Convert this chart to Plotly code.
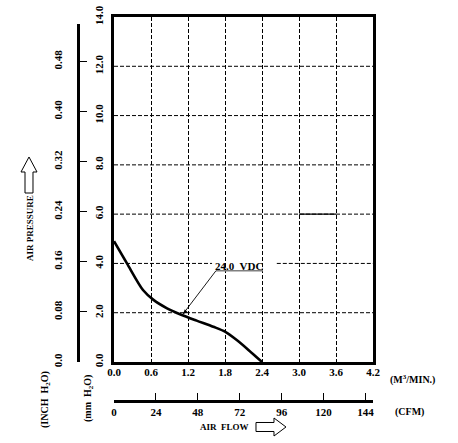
import plotly.graph_objects as go

# ---- data ----
flow_m3 = [0.0, 0.21, 0.47, 0.64, 0.86, 1.10, 1.34, 1.61, 1.80, 1.99, 2.18, 2.40]
pressure_mm = [4.9, 4.0, 2.92, 2.52, 2.18, 1.91, 1.68, 1.43, 1.23, 0.89, 0.49, 0.0]

x_ticks_m3 = [0.0, 0.6, 1.2, 1.8, 2.4, 3.0, 3.6, 4.2]
x_labels_m3 = ["0.0", "0.6", "1.2", "1.8", "2.4", "3.0", "3.6", "4.2"]
y_ticks_mm = [0, 2, 4, 6, 8, 10, 12, 14]
y_labels_mm = ["0.0", "2.0", "4.0", "6.0", "8.0", "10.0", "12.0", "14.0"]
inch_ticks = [0.0, 0.08, 0.16, 0.24, 0.32, 0.40, 0.48]
inch_labels = ["0.0", "0.08", "0.16", "0.24", "0.32", "0.40", "0.48"]
cfm_ticks = [0, 24, 48, 72, 96, 120, 144]
cfm_labels = ["0", "24", "48", "72", "96", "120", "144"]
curve_label = "24.0  VDC"
label_pos = (2.02, 3.9)
pointer_tip = (1.12, 1.95)
pointer_tail = (1.654, 3.705)
underline_end = 2.416
label_gap = (1.59, 2.64)   # gap in the 4.0 gridline behind the label
solid_seg = (3.0, 3.6, 6)  # solid segment on the 6.0 gridline

X_MAX, Y_MAX = 4.2, 14
M3_TO_CFM = 35.3147

W, H = 458, 443
def px(x):
    return x / W
def py(y):
    return 1 - y / H

FONT = "Liberation Serif"
def bold(lst):
    return [f"<b>{s}</b>" for s in lst]
tf = dict(family=FONT, size=11, color="black")
af = dict(family=FONT, size=10, color="black")
sf = dict(family=FONT, size=9, color="black")

fig = go.Figure()
fig.add_trace(go.Scatter(x=flow_m3, y=pressure_mm, mode="lines",
                         line=dict(color="black", width=2.6, shape="spline", smoothing=0.8),
                         hoverinfo="skip", showlegend=False))
# dummy trace so that secondary (unit-conversion) axes get drawn
fig.add_trace(go.Scatter(x=[None], y=[None], xaxis="x2", yaxis="y2",
                         showlegend=False, hoverinfo="skip"))

shapes = []
dash = "4px,2px"
for v in y_ticks_mm[1:-1]:
    if v == 4:
        segs = [(0, label_gap[0]), (label_gap[1], X_MAX)]
    else:
        segs = [(0, X_MAX)]
    for a, b in segs:
        shapes.append(dict(type="line", xref="x", yref="y", x0=a, x1=b, y0=v, y1=v,
                           line=dict(color="black", width=1, dash=dash), layer="below"))
shapes.append(dict(type="line", xref="x", yref="y", x0=solid_seg[0], x1=solid_seg[1],
                   y0=solid_seg[2], y1=solid_seg[2], line=dict(color="black", width=1.2)))
# underline of label
shapes.append(dict(type="line", xref="x", yref="y", x0=pointer_tail[0], x1=underline_end,
                   y0=pointer_tail[1], y1=pointer_tail[1], line=dict(color="#808080", width=1.6)))
# pointer line
shapes.append(dict(type="line", xref="x", yref="y", x0=pointer_tail[0], x1=pointer_tip[0],
                   y0=pointer_tail[1], y1=pointer_tip[1], line=dict(color="black", width=0.9)))

def poly(pts):
    return "M " + " L ".join(f"{px(a):.5f},{py(b):.5f}" for a, b in pts) + " Z"
up_arrow = [(29, 157), (37, 172), (33, 172), (33, 193), (25, 193), (25, 172), (21, 172)]
right_arrow = [(286, 427), (274, 418), (274, 422.5), (256, 422.5), (256, 431.5), (274, 431.5), (274, 436)]
for p in (up_arrow, right_arrow):
    shapes.append(dict(type="path", xref="paper", yref="paper", path=poly(p),
                       line=dict(color="black", width=1), fillcolor="white"))

def note(x, y, text, angle=0, xanchor="center", font=af):
    return dict(x=px(x), y=py(y), xref="paper", yref="paper", text=f"<b>{text}</b>",
                textangle=angle, showarrow=False, xanchor=xanchor, yanchor="middle", font=font)

annotations = [
    dict(x=label_pos[0], y=label_pos[1], xref="x", yref="y", text=f"<b>{curve_label}</b>",
         showarrow=False, xanchor="center", yanchor="middle", font=tf),
    # small arrowhead at the curve end of the pointer
    dict(x=pointer_tip[0], y=pointer_tip[1], xref="x", yref="y",
         ax=pointer_tip[0] + 0.05, ay=pointer_tip[1] + 0.12, axref="x", ayref="y", text="",
         showarrow=True, arrowhead=2, arrowsize=1, arrowwidth=0.9, arrowcolor="black", standoff=0),
    note(30, 228, "AIR PRESSURE", -90, font=sf),
    note(45, 400, "(INCH  H<sub>2</sub>O)", -90),
    note(88, 399, "(mm  H<sub>2</sub>O)", -90),
    note(388, 379, "(M<sup>3</sup>/MIN.)", 0, "left"),
    note(393, 412, "(CFM)", 0, "left"),
    note(224.5, 427, "AIR  FLOW", font=sf),
]

fig.update_layout(
    template="none",
    width=W, height=H,
    margin=dict(l=0, r=0, t=0, b=0),
    paper_bgcolor="white", plot_bgcolor="rgba(0,0,0,0)",
    showlegend=False,
    shapes=shapes, annotations=annotations,
    xaxis=dict(domain=[px(114), px(373)], range=[0, X_MAX], anchor="y",
               showline=True, linewidth=3, linecolor="black", mirror=True,
               tickvals=x_ticks_m3, ticktext=bold(x_labels_m3), ticks="", tickfont=tf,
               ticklabelstandoff=-2,
               showgrid=True, gridcolor="black", gridwidth=1, griddash=dash, zeroline=False),
    yaxis=dict(domain=[py(362), py(17)], range=[0, Y_MAX], anchor="x",
               showline=True, linewidth=3, linecolor="black", mirror=True,
               tickvals=y_ticks_mm, ticktext=bold(y_labels_mm), ticks="", tickangle=-90, tickfont=tf,
               ticklabelstandoff=4, showgrid=False, zeroline=False),
    xaxis2=dict(domain=[px(114), px(373)], range=[0, X_MAX * M3_TO_CFM], anchor="free",
                position=py(401), side="bottom",
                showline=True, linewidth=2.5, linecolor="black",
                ticks="inside", ticklen=7, tickwidth=1.2, tickcolor="black",
                tickvals=cfm_ticks, ticktext=bold(cfm_labels), tickfont=tf,
                showgrid=False, zeroline=False),
    yaxis2=dict(domain=[py(362), py(24)], range=[0, 0.54], anchor="free",
                position=px(78), side="left",
                showline=True, linewidth=2.5, linecolor="black",
                ticks="inside", ticklen=7, tickwidth=1.2, tickcolor="black",
                tickvals=inch_ticks, ticktext=bold(inch_labels), tickangle=-90, tickfont=tf,
                ticklabelstandoff=11, showgrid=False, zeroline=False),
)

fig.write_html("out.html")
